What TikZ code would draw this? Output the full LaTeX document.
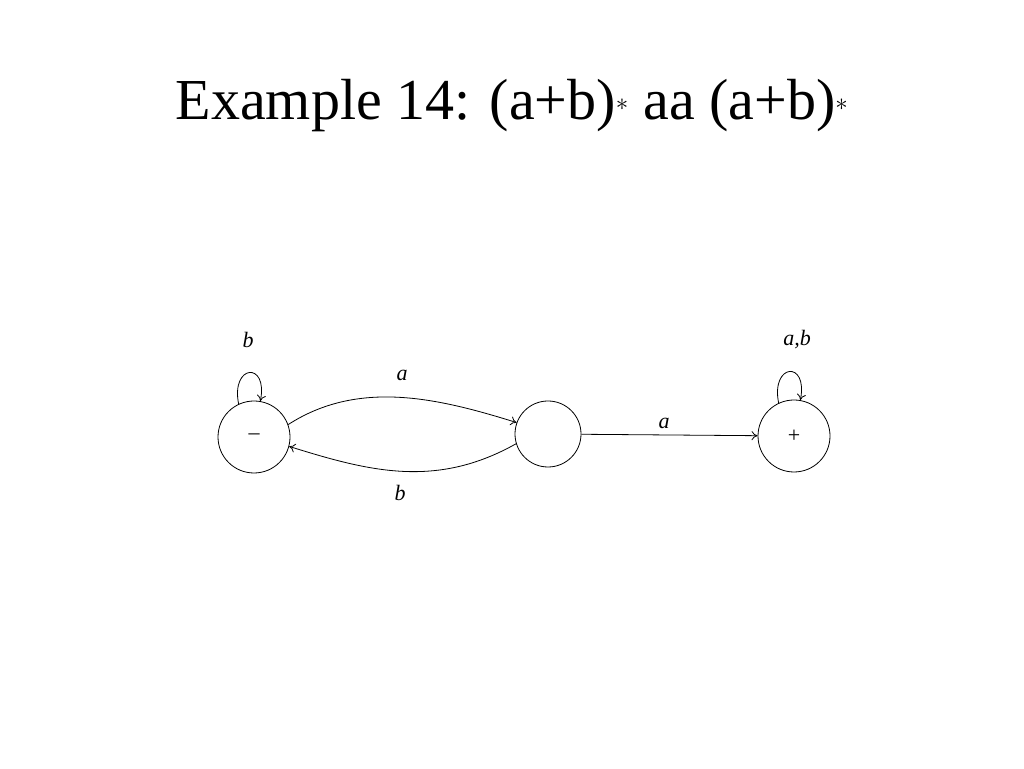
\documentclass[tikz,border=0pt]{standalone}
\usepackage{fontspec}
\setmainfont{Liberation Serif}
\usetikzlibrary{arrows.meta}
\begin{document}
\begin{tikzpicture}[x=1pt,y=1pt,
  st/.style={circle,draw,line width=0.8pt,inner sep=0pt},
  lab/.style={font=\fontsize{22}{24}\selectfont\itshape,inner sep=0pt},
  ed/.style={line width=0.8pt,-{To[length=6pt,width=9pt]}}]
\useasboundingbox (0,0) rectangle (1024,768);
\node[font=\fontsize{58}{60}\selectfont,anchor=base] (t) at (512,648) {Example 14: (a+b)$^{*}$ aa (a+b)$^{*}$};
\node[st,minimum size=72pt,font=\fontsize{22}{24}\selectfont] (s1) at (254,331) {--};
\node[st,minimum size=66pt] (s2) at (548,334) {};
\node[st,minimum size=72pt,font=\fontsize{22}{24}\selectfont] (s3) at (794,332) {+};
\draw[ed] (s1.115) .. controls +(-8,40) and +(8,40) .. (s1.80);
\node[lab] (l1) at (248,428) {b};
\draw[ed] (s3.115) .. controls +(-8,40) and +(8,40) .. (s3.80);
\node[lab] (l3) at (797,428) {a,b};
\draw[ed] (s1.20) .. controls +(70,45) and +(-80,25) .. (s2.160);
\node[lab] (la) at (402,393) {a};
\draw[ed] (s2.197) .. controls +(-80,-45) and +(80,-25) .. (s1.-15);
\node[lab] (lb) at (400,275) {b};
\draw[ed] (s2) -- (s3);
\node[lab] (lc) at (664,345) {a};
\end{tikzpicture}
\end{document}
